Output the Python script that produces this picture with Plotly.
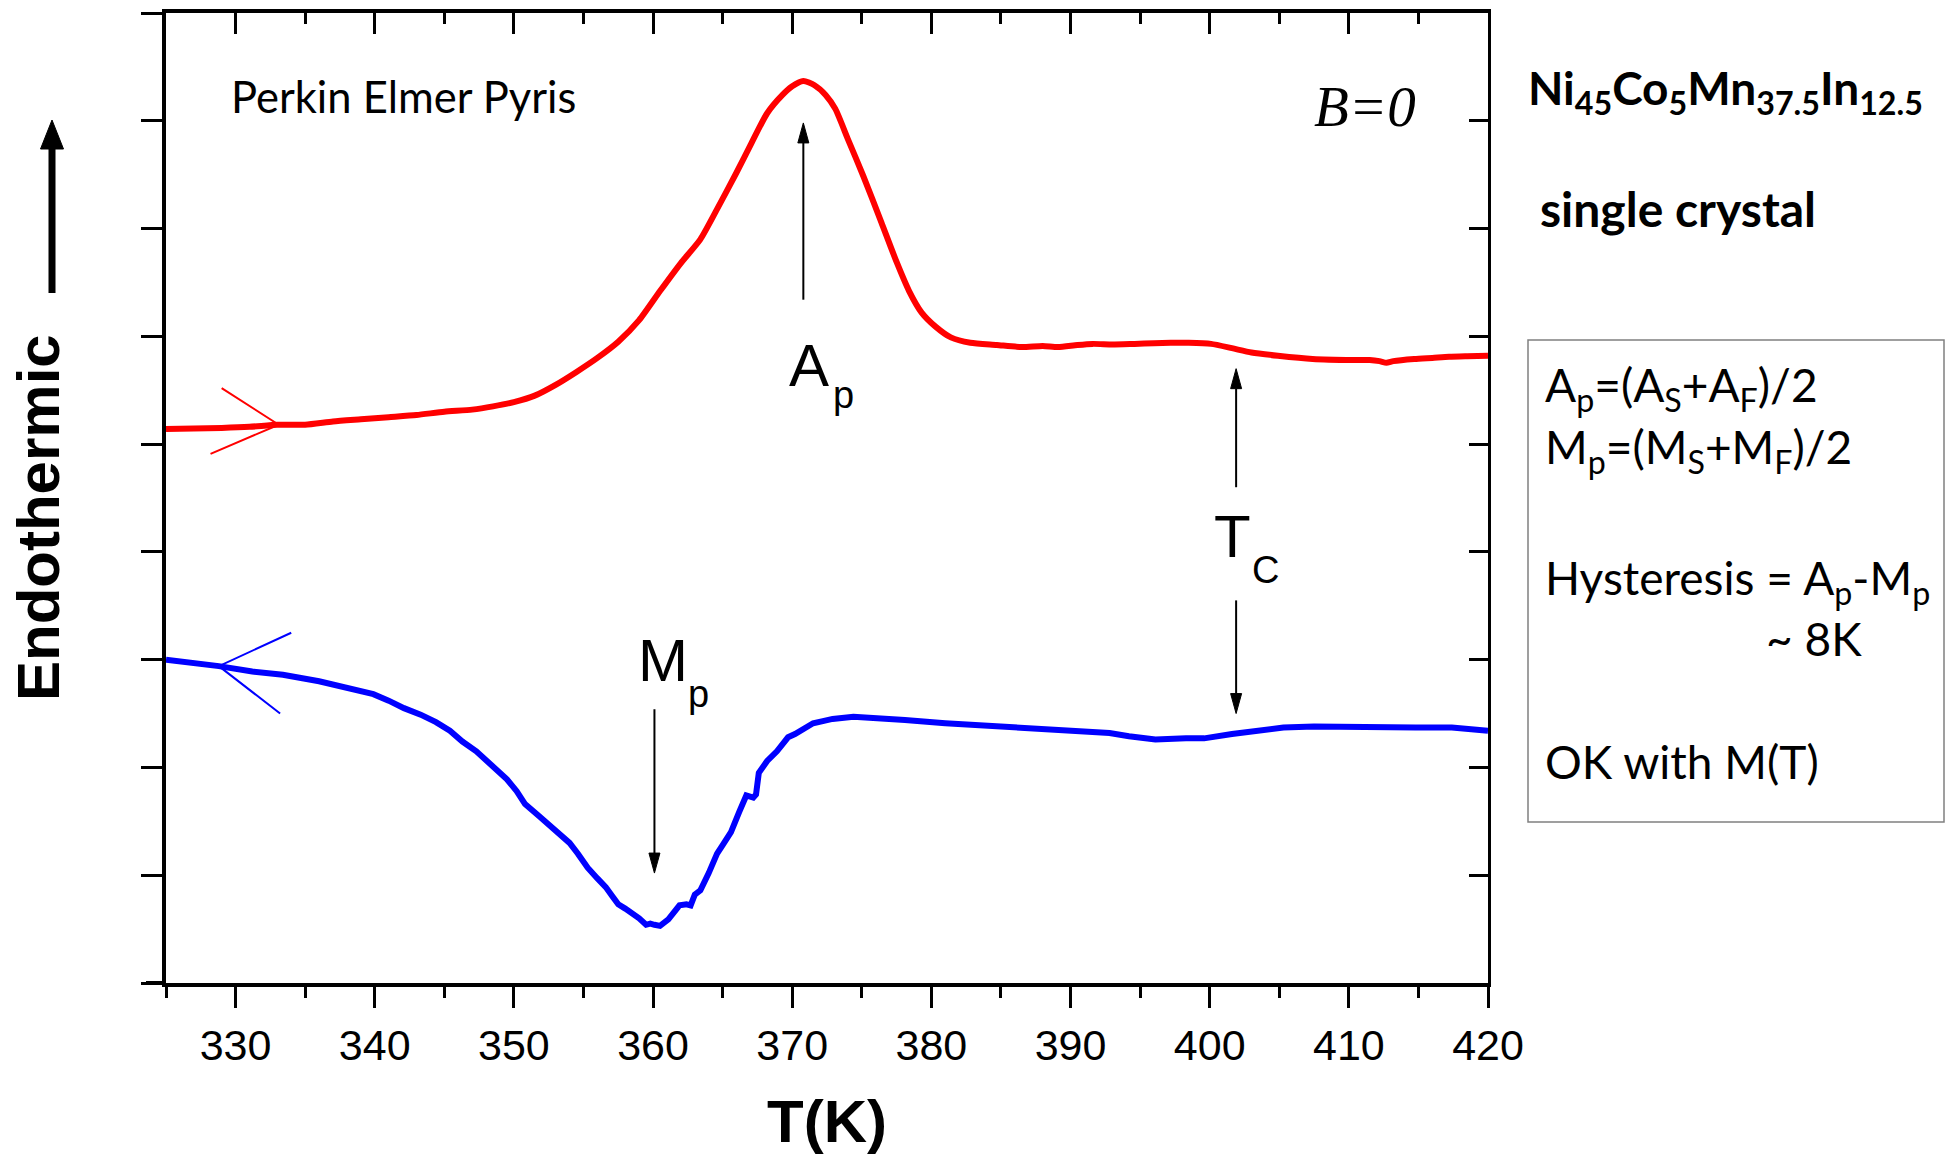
import plotly.graph_objects as go

# DSC traces: heating (red, endothermic peak) and cooling (blue, exothermic dip)
heat_T = [325.0, 327.0, 329.0, 331.0, 333.0, 335.0, 337.0, 339.0, 341.0, 343.0, 345.0,
          347.0, 348.5, 350.0, 351.5, 353.0, 354.5, 356.0, 357.5, 359.0, 360.5, 362.0,
          363.4, 364.6, 366.0, 367.1, 368.2, 369.3, 370.0, 370.8, 371.6, 372.4, 373.1,
          374.0, 375.1, 376.4, 377.5, 378.4, 379.3, 380.3, 381.4, 382.8, 384.7, 386.5,
          388.0, 389.1, 390.5, 391.6, 393.0, 394.6, 396.0, 397.2, 398.5, 400.1, 401.6,
          403.0, 404.9, 407.4, 410.3, 411.5, 412.2, 412.7, 413.2, 414.7, 416.0, 417.2,
          418.5, 420.0]
heat_Q = [5.14, 5.145, 5.15, 5.16, 5.18, 5.18, 5.21, 5.23, 5.25, 5.27, 5.30,
          5.32, 5.35, 5.39, 5.45, 5.55, 5.67, 5.80, 5.95, 6.15, 6.42, 6.68,
          6.90, 7.18, 7.52, 7.80, 8.07, 8.24, 8.32, 8.37, 8.33, 8.24, 8.11,
          7.83, 7.49, 7.06, 6.69, 6.42, 6.22, 6.09, 5.99, 5.94, 5.92, 5.90,
          5.91, 5.90, 5.92, 5.93, 5.925, 5.93, 5.935, 5.94, 5.94, 5.93, 5.89,
          5.85, 5.82, 5.79, 5.78, 5.78, 5.77, 5.755, 5.77, 5.79, 5.80, 5.81,
          5.815, 5.82]

cool_T = [325.0, 327.0, 328.8, 331.2, 333.4, 336.0, 338.3, 339.9, 341.0, 342.1, 343.3,
          344.4, 345.4, 346.3, 347.3, 348.2, 349.0, 349.5, 350.2, 350.8, 351.8, 352.7,
          353.4, 354.0, 354.6, 355.3, 356.0, 356.6, 357.1, 357.5, 358.0, 358.5, 359.0,
          359.5, 359.8, 360.1, 360.5, 361.1, 361.5, 361.9, 362.4, 362.7, 363.0, 363.4,
          364.0, 364.6, 365.0, 365.6, 366.2, 366.7, 367.2, 367.4, 367.6, 368.2, 368.9,
          369.7, 370.2, 370.8, 371.5, 372.2, 372.9, 374.4, 376.6, 378.1, 381.0, 383.9,
          386.9, 389.8, 392.8, 394.2, 395.2, 396.1, 398.3, 399.6, 401.6, 403.4, 405.3,
          407.5, 411.2, 414.8, 417.4, 420.0]
cool_Q = [3.00, 2.97, 2.94, 2.89, 2.86, 2.80, 2.73, 2.68, 2.62, 2.55, 2.49,
          2.42, 2.34, 2.24, 2.15, 2.05, 1.95, 1.89, 1.78, 1.66, 1.55, 1.45,
          1.38, 1.30, 1.20, 1.07, 0.97, 0.89, 0.80, 0.73, 0.69, 0.65, 0.60,
          0.54, 0.55, 0.54, 0.53, 0.59, 0.66, 0.72, 0.73, 0.72, 0.82, 0.86,
          1.02, 1.20, 1.28, 1.40, 1.59, 1.74, 1.72, 1.75, 1.95, 2.06, 2.15,
          2.28, 2.31, 2.36, 2.41, 2.43, 2.45, 2.47, 2.46, 2.44, 2.41, 2.39,
          2.37, 2.34, 2.32, 2.29, 2.27, 2.26, 2.27, 2.27, 2.31, 2.34, 2.37,
          2.38, 2.37, 2.37, 2.37, 2.34]

x_ticks = [330, 340, 350, 360, 370, 380, 390, 400, 410, 420]

# Direction markers on each trace: upper wing, tip, lower wing
heat_dir = [(329.0, 5.52), (333.1, 5.18), (328.2, 4.91)]
cool_dir = [(334.0, 3.25), (328.8, 2.94), (333.2, 2.50)]

# Vertical marker arrows: (T, tail, tip)
peak_arrows = [(370.8, 6.34, 7.98), (360.1, 2.54, 1.02), (401.9, 4.60, 5.70), (401.9, 3.55, 2.50)]

# Temperature labels: (main letter, T, level, subscript, T, level)
peak_labels = [("A", 369.6, 5.73, "p", 372.8, 5.46),
               ("M", 358.8, 2.99, "p", 362.4, 2.68),
               ("T", 400.2, 4.14, "C", 402.9, 3.83)]

W, H = 1953, 1154
ML, MR, MT, MB = 166, 465, 13, 171
PW, PH = W - ML - MR, H - MT - MB
X0, X1, Y0, Y1 = 325.0, 420.0, 0.0, 9.0


def px(x):
    return (x - ML) / PW


def py(y):
    return (H - MB - y) / PH


def dx(pixels):
    return pixels * (X1 - X0) / PW


def dy(pixels):
    return pixels * (Y1 - Y0) / PH


fig = go.Figure()
fig.add_trace(go.Scatter(x=heat_T, y=heat_Q, mode="lines",
                         line=dict(color="#ff0000", width=6, shape="spline", smoothing=0.6),
                         hoverinfo="skip"))
fig.add_trace(go.Scatter(x=cool_T, y=cool_Q, mode="lines", xaxis="x2", yaxis="y2",
                         line=dict(color="#0000ff", width=6), hoverinfo="skip"))

shapes = []
for pts, col in ((heat_dir, "#ff0000"), (cool_dir, "#0000ff")):
    path = "M{},{} L{},{} L{},{}".format(pts[0][0], pts[0][1], pts[1][0], pts[1][1],
                                         pts[2][0], pts[2][1])
    shapes.append(dict(type="path", path=path, xref="x", yref="y",
                       line=dict(color=col, width=2)))

head_len, head_half = 20, 5.5
for t, tail, tip in peak_arrows:
    sgn = 1 if tip > tail else -1
    base = tip - sgn * dy(head_len)
    shapes.append(dict(type="line", xref="x", yref="y", x0=t, x1=t, y0=tail, y1=base,
                       line=dict(color="black", width=2)))
    shapes.append(dict(type="path", xref="x", yref="y",
                       path="M{},{} L{},{} L{},{} Z".format(t, tip, t - dx(head_half), base,
                                                           t + dx(head_half), base),
                       fillcolor="black", line=dict(color="black", width=1)))

# "Endothermic" direction arrow beside the y axis
shapes.append(dict(type="line", xref="paper", yref="paper", x0=px(52), x1=px(52),
                   y0=py(293), y1=py(145), line=dict(color="black", width=7)))
shapes.append(dict(type="path", xref="paper", yref="paper",
                   path="M{},{} L{},{} L{},{} Z".format(px(52), py(120), px(40.5), py(149),
                                                       px(63.5), py(149)),
                   fillcolor="black", line=dict(color="black", width=1)))
# bottom frame line runs out under the left ticks
shapes.append(dict(type="line", xref="paper", yref="paper", x0=px(146), x1=0,
                   y0=0, y1=0, line=dict(color="black", width=4)))
# info box
shapes.append(dict(type="rect", xref="paper", yref="paper", x0=px(1528), x1=px(1944),
                   y0=py(822), y1=py(340), line=dict(color="#808080", width=1.5)))

ARIAL = "Liberation Sans, Arial, sans-serif"
CAL = "Lato, Open Sans, sans-serif"

ann = []


def txt(text, x, y, size, family, xanchor="left", yanchor="middle", ref="paper", **kw):
    d = dict(text=text, x=x, y=y, xref=ref, yref=ref.replace("x", "y"), showarrow=False,
             xanchor=xanchor, yanchor=yanchor, font=dict(size=size, family=family, color="black"))
    d.update(kw)
    ann.append(d)


txt("Perkin Elmer Pyris", px(229), py(96), 43.5, CAL)
txt("<i>B=0</i>", px(1312), py(107), 57, "Liberation Serif, Times New Roman, serif")
txt("<b>Ni<sub>45</sub>Co<sub>5</sub>Mn<sub>37.5</sub>In<sub>12.5</sub></b>", px(1526), py(91), 46, CAL)
txt("<b>single crystal</b>", px(1538), py(209), 48, CAL)
txt("A<sub>p</sub>=(A<sub>S</sub>+A<sub>F</sub>)/2", px(1543), py(388), 46, CAL)
txt("M<sub>p</sub>=(M<sub>S</sub>+M<sub>F</sub>)/2", px(1543), py(450), 46, CAL)
txt("Hysteresis = A<sub>p</sub>-M<sub>p</sub>", px(1543), py(581), 46, CAL)
txt("~ 8K", px(1764), py(639), 46, CAL)
txt("OK with M(T)", px(1543), py(761), 46, CAL)

for main, mx, my, sub, sx, sy in peak_labels:
    txt(main, mx, my, 60, ARIAL, ref="x")
    txt(sub, sx, sy, 38, ARIAL, ref="x")

txt("<b>T(K)</b>", 0.5, py(1121), 60, ARIAL, xanchor="center")
txt("<b>Endothermic</b>", px(38), py(518), 60, ARIAL, xanchor="center", textangle=-90)

axis_common = dict(showline=True, linecolor="black", showgrid=False, zeroline=False)
fig.update_layout(
    width=W, height=H,
    margin=dict(l=ML, r=MR, t=MT, b=MB, pad=0),
    paper_bgcolor="white", plot_bgcolor="white",
    showlegend=False,
    xaxis=dict(range=[X0, X1], linewidth=4, ticks="outside", ticklen=21, tickwidth=3,
               tickcolor="black", tickmode="array", tickvals=x_ticks,
               tickfont=dict(size=43, family=ARIAL, color="black"),
               minor=dict(ticks="outside", ticklen=11, tickwidth=3, tickcolor="black",
                          tick0=325, dtick=5),
               **axis_common),
    xaxis2=dict(range=[X0, X1], overlaying="x", side="top", anchor="y2", linewidth=4,
                ticks="inside", ticklen=21, tickwidth=3, tickcolor="black",
                tickmode="array", tickvals=x_ticks, showticklabels=False,
                minor=dict(ticks="inside", ticklen=11, tickwidth=3, tickcolor="black",
                           tick0=325, dtick=5),
                **axis_common),
    yaxis=dict(range=[Y0, Y1], linewidth=4, ticks="outside", ticklen=21, tickwidth=3,
               tickcolor="black", dtick=1, showticklabels=False, **axis_common),
    yaxis2=dict(range=[Y0, Y1], overlaying="y", side="right", anchor="x2", linewidth=3,
                ticks="inside", ticklen=19, tickwidth=3, tickcolor="black", dtick=1,
                showticklabels=False, **axis_common),
    shapes=shapes,
    annotations=ann,
)

fig.write_html("out.html")
